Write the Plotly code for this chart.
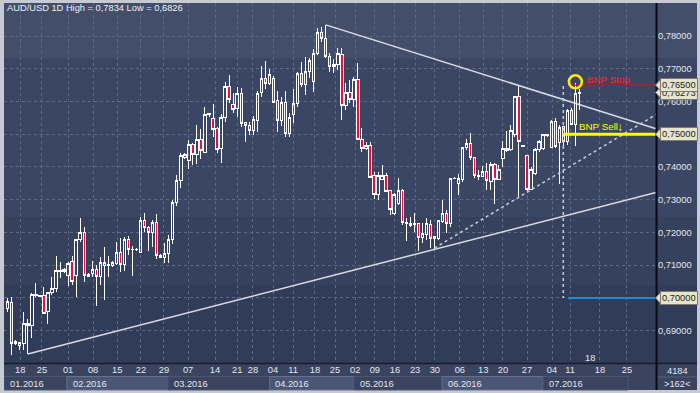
import plotly.graph_objects as go

# ---------------- data ----------------
open_ = [0.6968,0.6987,0.6860,0.6856,0.6861,0.6915,0.6917,0.7006,0.7007,0.7006,
         0.6958,0.7017,0.7029,0.7080,0.7080,0.7070,0.7110,0.7070,0.7177,0.7200,
         0.7065,0.7075,0.7087,0.7065,0.7099,0.7100,0.7099,0.7106,0.7139,0.7103,
         0.7179,0.7147,0.7148,0.7138,0.7236,0.7216,0.7200,0.7231,0.7131,0.7124,
         0.7136,0.7179,0.7292,0.7360,0.7429,0.7421,0.7469,0.7437,0.7485,0.7445,
         0.7559,0.7549,0.7516,0.7457,0.7552,0.7647,0.7592,0.7579,0.7623,0.7535,
         0.7526,0.7510,0.7541,0.7627,0.7671,0.7655,0.7671,0.7604,0.7541,0.7597,
         0.7503,0.7559,0.7594,0.7684,0.7652,0.7693,0.7661,0.7747,0.7811,0.7793,
         0.7737,0.7706,0.7714,0.7742,0.7589,0.7627,0.7605,0.7666,0.7484,0.7455,
         0.7465,0.7373,0.7317,0.7362,0.7375,0.7328,0.7258,0.7287,0.7328,0.7227,
         0.7228,0.7224,0.7226,0.7184,0.7195,0.7225,0.7182,0.7182,0.7233,0.7258,
         0.7228,0.7364,0.7350,0.7362,0.7460,0.7472,0.7429,0.7375,0.7372,0.7386,
         0.7355,0.7409,0.7362,0.7426,0.7457,0.7454,0.7498,0.7615,0.7465,0.7434,
         0.7332,0.7381,0.7452,0.7457,0.7497,0.7460,0.7540,0.7474,0.7523,0.7477,
         0.7572,0.7531,0.7623]
high = [0.6999,0.7004,0.6872,0.6866,0.6958,0.6935,0.7014,0.7045,0.7009,0.7032,
        0.7019,0.7065,0.7128,0.7111,0.7090,0.7111,0.7128,0.7180,0.7243,0.7218,
        0.7075,0.7114,0.7100,0.7126,0.7157,0.7128,0.7114,0.7170,0.7182,0.7187,
        0.7189,0.7160,0.7153,0.7248,0.7258,0.7220,0.7238,0.7256,0.7133,0.7167,
        0.7192,0.7299,0.7375,0.7444,0.7444,0.7482,0.7474,0.7528,0.7515,0.7582,
        0.7566,0.7592,0.7523,0.7562,0.7660,0.7681,0.7627,0.7645,0.7640,0.7538,
        0.7538,0.7556,0.7633,0.7708,0.7725,0.7698,0.7678,0.7633,0.7615,0.7632,
        0.7564,0.7637,0.7691,0.7720,0.7735,0.7732,0.7759,0.7823,0.7827,0.7834,
        0.7749,0.7729,0.7762,0.7762,0.7655,0.7666,0.7676,0.7719,0.7518,0.7477,
        0.7477,0.7386,0.7386,0.7406,0.7381,0.7330,0.7320,0.7365,0.7332,0.7243,
        0.7248,0.7258,0.7228,0.7228,0.7243,0.7238,0.7189,0.7238,0.7299,0.7269,
        0.7367,0.7368,0.7379,0.7462,0.7484,0.7503,0.7431,0.7390,0.7403,0.7411,
        0.7416,0.7411,0.7406,0.7479,0.7510,0.7528,0.7617,0.7647,0.7466,0.7437,
        0.7401,0.7457,0.7482,0.7501,0.7502,0.7543,0.7549,0.7528,0.7525,0.7576,
        0.7579,0.7655,0.7638]
low = [0.6958,0.6826,0.6856,0.6841,0.6841,0.6830,0.6877,0.7004,0.7002,0.6951,
       0.6919,0.7009,0.7019,0.7060,0.7075,0.7036,0.7040,0.7002,0.7172,0.7050,
       0.7063,0.7065,0.6975,0.7040,0.6994,0.7065,0.7095,0.7101,0.7080,0.7083,
       0.7131,0.7068,0.7144,0.7136,0.7200,0.7144,0.7157,0.7118,0.7122,0.7108,
       0.7108,0.7165,0.7282,0.7337,0.7423,0.7393,0.7406,0.7409,0.7423,0.7444,
       0.7554,0.7491,0.7444,0.7413,0.7538,0.7594,0.7566,0.7552,0.7521,0.7475,
       0.7498,0.7498,0.7508,0.7613,0.7637,0.7650,0.7594,0.7508,0.7525,0.7491,
       0.7493,0.7533,0.7582,0.7645,0.7620,0.7671,0.7630,0.7742,0.7783,0.7732,
       0.7691,0.7688,0.7696,0.7543,0.7574,0.7594,0.7584,0.7482,0.7447,0.7452,
       0.7365,0.7301,0.7299,0.7360,0.7322,0.7253,0.7253,0.7284,0.7223,0.7175,
       0.7216,0.7202,0.7144,0.7167,0.7177,0.7152,0.7148,0.7177,0.7228,0.7199,
       0.7218,0.7362,0.7314,0.7355,0.7452,0.7421,0.7367,0.7360,0.7370,0.7330,
       0.7330,0.7287,0.7360,0.7401,0.7447,0.7450,0.7493,0.7309,0.7462,0.7328,
       0.7330,0.7376,0.7447,0.7452,0.7493,0.7457,0.7457,0.7349,0.7462,0.7467,
       0.7528,0.7463,0.7574]
close = [0.6989,0.6861,0.6866,0.6863,0.6922,0.6922,0.7011,0.7011,0.7004,0.6953,
         0.7017,0.7029,0.7083,0.7083,0.7087,0.7106,0.7050,0.7177,0.7200,0.7070,
         0.7072,0.7087,0.7065,0.7109,0.7108,0.7103,0.7109,0.7139,0.7103,0.7179,
         0.7148,0.7148,0.7149,0.7235,0.7216,0.7200,0.7231,0.7129,0.7124,0.7136,
         0.7179,0.7292,0.7360,0.7434,0.7439,0.7469,0.7437,0.7485,0.7449,0.7561,
         0.7564,0.7515,0.7454,0.7552,0.7647,0.7605,0.7576,0.7623,0.7533,0.7527,
         0.7510,0.7544,0.7625,0.7671,0.7655,0.7681,0.7597,0.7543,0.7597,0.7503,
         0.7552,0.7594,0.7684,0.7652,0.7693,0.7724,0.7747,0.7811,0.7793,0.7737,
         0.7706,0.7714,0.7747,0.7589,0.7627,0.7605,0.7666,0.7484,0.7457,0.7467,
         0.7368,0.7317,0.7373,0.7375,0.7325,0.7271,0.7316,0.7328,0.7230,0.7231,
         0.7221,0.7228,0.7184,0.7197,0.7226,0.7182,0.7187,0.7235,0.7258,0.7228,
         0.7365,0.7366,0.7365,0.7459,0.7472,0.7429,0.7375,0.7372,0.7386,0.7358,
         0.7406,0.7362,0.7391,0.7457,0.7450,0.7511,0.7615,0.7477,0.7463,0.7332,
         0.7393,0.7452,0.7477,0.7498,0.7499,0.7538,0.7462,0.7520,0.7477,0.7572,
         0.7531,0.7625,0.7627]
idx = list(range(len(open_)))

# weekly date labels (positions in bar units) and month blocks
week_pos = [3.1, 8.5, 15.0, 21.2, 27.2, 33.1, 38.8, 44.8, 51.5, 57.0, 60.9, 65.9, 70.9,
            76.3, 81.3, 86.3, 91.2, 96.2, 101.2, 106.1, 112.3, 118.1, 123.0, 129.0,
            135.2, 139.7, 147.1, 153.8]
week_lbl = ['18', '25', '01', '08', '15', '22', '29', '07', '14', '21', '28', '04', '11',
            '18', '25', '02', '09', '16', '23', '30', '06', '13', '20', '27',
            '04', '11', '18', '25']
month_start = [-0.92, 14.7, 39.8, 65.1, 86.0, 107.9, 133.0, 154.1]
month_lbl = ['01.2016', '02.2016', '03.2016', '04.2016', '05.2016', '06.2016', '07.2016']

price_ticks = [0.69, 0.70, 0.71, 0.72, 0.73, 0.74, 0.75, 0.76, 0.77, 0.78]
price_lbl = [f"{v:.5f}".replace('.', ',') for v in price_ticks]

# analysis objects
resist_x, resist_y = [79, 161.28], [0.7834, 0.7516]          # falling trend line
support_x, support_y = [5, 161.28], [0.6829, 0.7323]          # rising trend line
dotted_x, dotted_y = [106, 161.28], [0.7152, 0.7562]          # dotted channel line
stop_level, sell_level, target_level = 0.7650, 0.7500, 0.7000
last_price = 0.76273
signal_bar = 138
circle_bar, circle_price = 141, 0.7660

XMIN, XMAX = -0.92, 161.28
YMIN, YMAX = 0.68012, 0.79008

# ---------------- helpers for pixel-ish layout ----------------
L, R, T, B = 4, 43, 3, 30
PW, PH = 700 - L - R, 393 - T - B
def px(x):  # pixel x -> paper
    return (x - L) / PW
def py(y):  # pixel y -> paper
    return (393 - B - y) / PH

FONT = "Liberation Sans, Arial, sans-serif"
FS = 9.3
TXT = '#e2e6ee'
fig = go.Figure()

fig.add_trace(go.Candlestick(
    x=idx, open=open_, high=high, low=low, close=close,
    increasing=dict(line=dict(color='#ffffff', width=1), fillcolor='rgba(0,0,0,0)'),
    decreasing=dict(line=dict(color='#ffffff', width=1), fillcolor='#ea0f3d'),
    whiskerwidth=0, hoverinfo='skip'))

line_col = '#d9dce3'
fig.add_trace(go.Scatter(x=resist_x, y=resist_y, mode='lines',
                         line=dict(color=line_col, width=1.5), hoverinfo='skip'))
fig.add_trace(go.Scatter(x=support_x, y=support_y, mode='lines',
                         line=dict(color=line_col, width=1.5), hoverinfo='skip'))
fig.add_trace(go.Scatter(x=dotted_x, y=dotted_y, mode='lines',
                         line=dict(color='#c9ccd4', width=1.5, dash='dot'), hoverinfo='skip'))
fig.add_trace(go.Scatter(x=[signal_bar, signal_bar], y=[0.7647, target_level], mode='lines',
                         line=dict(color='#c9ccd4', width=1.5, dash='dot'), hoverinfo='skip'))
fig.add_trace(go.Scatter(x=[139.2, XMAX], y=[stop_level, stop_level], mode='lines',
                         line=dict(color='#d4121b', width=1.2), hoverinfo='skip'))
fig.add_trace(go.Scatter(x=[signal_bar, XMAX], y=[sell_level, sell_level], mode='lines',
                         line=dict(color='#ffff00', width=3), hoverinfo='skip'))
fig.add_trace(go.Scatter(x=[139.2, XMAX], y=[target_level, target_level], mode='lines',
                         line=dict(color='#1d8ad2', width=2), hoverinfo='skip'))
fig.add_trace(go.Scatter(x=[circle_bar], y=[circle_price], mode='markers',
                         marker=dict(symbol='circle-open', size=13, color='#ffee00',
                                     line=dict(color='#ffee00', width=2.5)),
                         hoverinfo='skip'))

shapes = []
bands = [(3, 58, '#434e6a'), (58, 217, '#3b4664'), (217, 285, '#36415e'), (285, 363, '#313c58')]
for y0, y1, c in bands:
    shapes.append(dict(type='rect', xref='paper', yref='paper', x0=px(4), x1=px(697),
                       y0=py(y1), y1=py(y0), fillcolor=c, line=dict(width=0), layer='below'))
shapes.append(dict(type='rect', xref='paper', yref='paper', x0=px(4), x1=px(697),
                   y0=py(390), y1=py(363), fillcolor='#3a445f', line=dict(width=0), layer='below'))
for k in range(len(month_lbl)):
    light = k % 2 == 1
    shapes.append(dict(type='rect', xref='x', yref='paper', x0=month_start[k], x1=month_start[k + 1],
                       y0=py(390), y1=py(376.5),
                       fillcolor='#4b5677' if light else '#3a445f',
                       line=dict(color='#66718f' if light else '#4c5674', width=1), layer='below'))
shapes.append(dict(type='line', xref='paper', yref='paper', x0=px(657), x1=px(697),
                   y0=py(377), y1=py(377), line=dict(color='#56607c', width=1)))
shapes.append(dict(type='line', xref='paper', yref='paper', x0=px(4), x1=px(697),
                   y0=py(363.5), y1=py(363.5), line=dict(color='#161c2c', width=1.5)))
shapes.append(dict(type='line', xref='paper', yref='paper', x0=px(656.5), x1=px(656.5),
                   y0=py(390), y1=py(3), line=dict(color='#080b14', width=2)))

annotations = []
def note(x, y, text, xref='paper', yref='paper', xanchor='left', color=TXT, size=FS):
    annotations.append(dict(xref=xref, yref=yref, x=x, y=y, xanchor=xanchor, yanchor='middle',
                            text=text, showarrow=False, font=dict(family=FONT, size=size, color=color)))

note(px(5), py(8.5), 'AUD/USD 1D High = 0,7834 Low = 0,6826', color='#eef0f4')
for k, lab in enumerate(month_lbl):
    note(month_start[k] + 0.9, py(383.5), lab, xref='x')
note(px(677), py(371), '4184', xanchor='center')
note(px(677), py(383.5), '&gt;162&lt;', xanchor='center')
note(px(590), py(358), '18', xanchor='center')
note(143.4, 0.7667, 'BNP Stop', xref='x', yref='y', color='#ff2424', size=FS + 0.5)
note(141.3, 0.7525, 'BNP Sell', xref='x', yref='y', color='#ffff00', size=FS + 0.5)
note(152.1, 0.7522, '<b>↓</b>', xref='x', yref='y', xanchor='center', color='#ffff00', size=12)

def tag(price, text):
    d = 5.5 / 3274
    shapes.append(dict(type='path', xref='paper', yref='y',
                       path=f"M {px(655.5)},{price} L {px(660.5)},{price + d} L {px(660.5)},{price - d} Z",
                       fillcolor='#e7e4cc', line=dict(color='#7b7b70', width=1)))
    annotations.append(dict(xref='paper', yref='y', x=px(660), y=price, xanchor='left', yanchor='middle',
                            text=text, showarrow=False, bgcolor='#e7e4cc', bordercolor='#7b7b70',
                            borderwidth=1, borderpad=1,
                            font=dict(family=FONT, size=FS, color='#1c1c1c')))

tag(last_price, f"{last_price:.5f}".replace('.', ','))
tag(stop_level, f"{stop_level:.5f}".replace('.', ','))
tag(sell_level, f"{sell_level:.5f}".replace('.', ','))
tag(target_level, f"{target_level:.5f}".replace('.', ','))

fig.update_layout(
    width=700, height=393,
    margin=dict(l=L, r=R, t=T, b=B, autoexpand=False),
    paper_bgcolor='#c5cad3', plot_bgcolor='#3b4664',
    showlegend=False, boxgap=0.15,
    xaxis=dict(range=[XMIN, XMAX], tickvals=week_pos, ticktext=week_lbl, showgrid=True,
               gridcolor='#5e6988', griddash='dot', gridwidth=1, zeroline=False, showline=False,
               ticks='', tickfont=dict(family=FONT, size=FS, color=TXT),
               rangeslider=dict(visible=False), automargin=False, fixedrange=True),
    yaxis=dict(range=[YMIN, YMAX], side='right', tickvals=price_ticks, ticktext=price_lbl,
               showgrid=True, gridcolor='#5e6988', griddash='dot', gridwidth=1, zeroline=False,
               showline=False, ticks='', tickfont=dict(family=FONT, size=FS, color=TXT),
               automargin=False, fixedrange=True),
    shapes=shapes, annotations=annotations,
)

fig.write_html("out.html", config={'displayModeBar': False},
               post_script="document.body.style.margin='0px';document.body.style.overflow='hidden';"
                           "document.querySelectorAll('.boxlayer path').forEach(function(p){p.style.shapeRendering='crispEdges';});")
